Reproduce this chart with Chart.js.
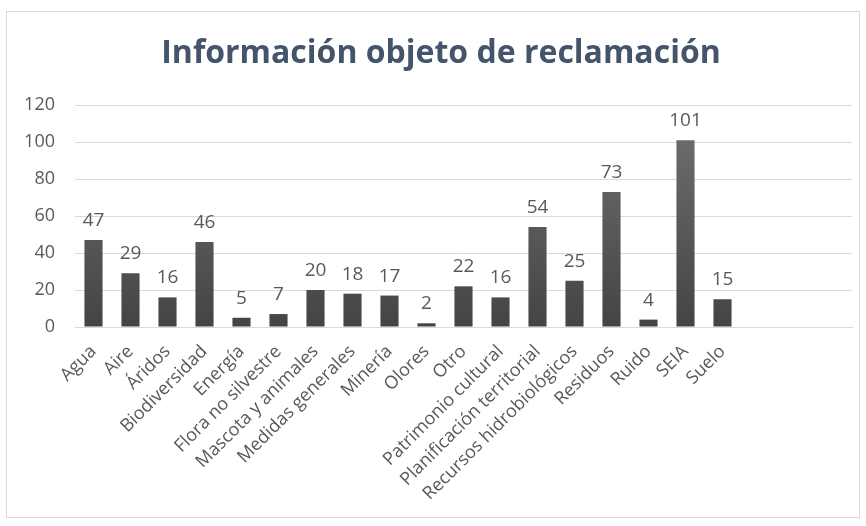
<!DOCTYPE html>
<html><head><meta charset="utf-8">
<script src="https://cdn.jsdelivr.net/npm/chart.js@4"></script>
<style>html,body{margin:0;padding:0;background:#fff}#wrap{width:866px;height:526px;position:relative}</style>
</head><body><div id="wrap"><canvas id="c" width="866" height="526"></canvas></div>
<script>
const chartTitle = 'Información objeto de reclamación';
const categories = ['Agua','Aire','Áridos','Biodiversidad','Energía','Flora no silvestre','Mascota y animales','Medidas generales','Minería','Olores','Otro','Patrimonio cultural','Planificación territorial','Recursos hidrobiológicos','Residuos','Ruido','SEIA','Suelo'];
const values = [47,29,16,46,5,7,20,18,17,2,22,16,54,25,73,4,101,15];
const emptySlots = ['', '', ''];
const yMin = 0, yMax = 120, yStep = 20;

const labels = categories.concat(emptySlots);
const data = values.concat(emptySlots.map(() => null));

const FONT = '"Open Sans", Lato, sans-serif';
const TXT = '#595959';

const framePlugin = {
  id: 'frame',
  beforeDraw(chart) {
    const ctx = chart.ctx;
    ctx.save();
    ctx.fillStyle = '#ffffff';
    ctx.fillRect(0, 0, chart.width, chart.height);
    ctx.strokeStyle = '#d9d9d9';
    ctx.lineWidth = 1;
    ctx.strokeRect(6.5, 11.5, 853, 506);
    ctx.fillStyle = '#44546a';
    ctx.font = 'bold 32px ' + FONT;
    ctx.textAlign = 'center';
    ctx.textBaseline = 'alphabetic';
    ctx.fillText(chartTitle, 441, 63);
    ctx.restore();
  },
  afterDatasetsDraw(chart) {
    const ctx = chart.ctx;
    const meta = chart.getDatasetMeta(0);
    ctx.save();
    ctx.fillStyle = TXT;
    ctx.font = '19px ' + FONT;
    ctx.textAlign = 'center';
    ctx.textBaseline = 'alphabetic';
    meta.data.forEach((el, i) => {
      const v = chart.data.datasets[0].data[i];
      if (v === null || v === undefined) return;
      ctx.fillText(String(v), el.x, el.y - 14);
    });
    ctx.restore();
  }
};

new Chart(document.getElementById('c'), {
  type: 'bar',
  data: {
    labels: labels,
    datasets: [{
      data: data,
      backgroundColor(context) {
        const ca = context.chart.chartArea;
        if (!ca) return '#555555';
        const g = context.chart.ctx.createLinearGradient(0, ca.top, 0, ca.bottom);
        g.addColorStop(0, '#727272');
        g.addColorStop(1, '#444444');
        return g;
      },
      borderWidth: 0,
      categoryPercentage: 1,
      barPercentage: 0.49
    }]
  },
  options: {
    responsive: false,
    animation: false,
    layout: { padding: { top: 105, left: 10, right: 14, bottom: 10 } },
    plugins: { legend: { display: false }, tooltip: { enabled: false }, title: { display: false } },
    scales: {
      x: {
        grid: { display: false, drawTicks: false },
        border: { display: true, color: '#d9d9d9' },
        ticks: { color: TXT, font: { family: FONT, size: 18 }, maxRotation: 45, minRotation: 45, autoSkip: false, padding: 14 },
        afterFit(s) { s.height = 189; }
      },
      y: {
        min: yMin, max: yMax,
        grid: { color: '#d9d9d9', drawTicks: false },
        border: { display: false },
        ticks: { stepSize: yStep, color: TXT, font: { family: FONT, size: 18 }, padding: 20 },
        afterFit(s) { s.width = 65; }
      }
    }
  },
  plugins: [framePlugin]
});
</script>
</body></html>
